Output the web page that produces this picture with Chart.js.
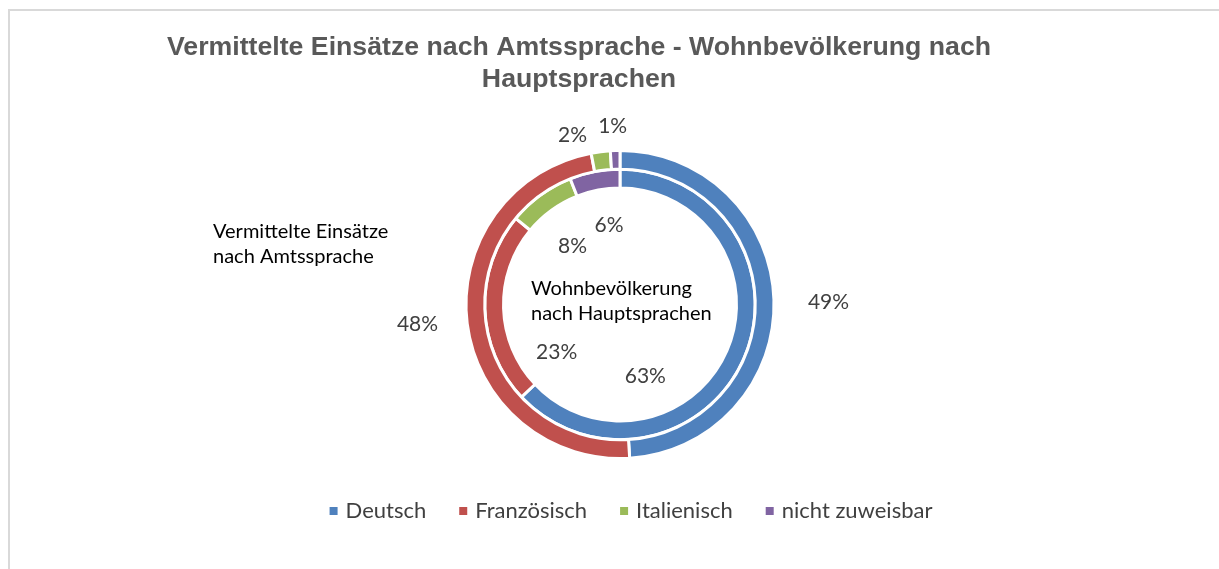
<!DOCTYPE html>
<html>
<head>
<meta charset="utf-8">
<script src="https://cdn.jsdelivr.net/npm/chart.js@4.4.1/dist/chart.umd.min.js"></script>
<style>
  html, body { margin: 0; padding: 0; background: #fff; overflow: hidden; }
  #frame { position: absolute; left: 8px; top: 9px; width: 1400px; height: 800px;
           border-left: 2px solid #d9d9d9; border-top: 2px solid #d9d9d9; }
  #c { position: absolute; left: 0; top: 0; }
</style>
</head>
<body>
<div id="frame"></div>
<canvas id="c" width="1219" height="569"></canvas>
<script>
// ---- data ----
const titleLines = ['Vermittelte Einsätze nach Amtssprache - Wohnbevölkerung nach', 'Hauptsprachen'];
const categories = ['Deutsch', 'Französisch', 'Italienisch', 'nicht zuweisbar'];
const einsaetzeLabel = ['Vermittelte Einsätze', 'nach Amtssprache'];
const einsaetzeValues = [49, 48, 2, 1];
const bevoelkerungLabel = ['Wohnbevölkerung', 'nach Hauptsprachen'];
const bevoelkerungValues = [63, 23, 8, 6];

// ---- styles / layout ----
const colors = ['#4F81BD', '#C0504D', '#9BBB59', '#8064A2'];
const FONT = 'Lato, "Open Sans", sans-serif';
// label offsets relative to doughnut centre (text centre x, baseline y)
const valueLabelOffsets = [
  [[208.5, 4.5], [-202.5, 26.2], [-47.5, -162.8], [-7.3, -171.8]],
  [[25.3, 78.5], [-63.3, 54.5], [-47.5, -51.2], [-11, -72.8]]
];
const seriesLabelOffsets = [[-407, -66.5], [-89, -9.5]];
const seriesLineHeight = 24.5;

const textPlugin = {
  id: 'texts',
  afterDraw(chart) {
    const ctx = chart.ctx;
    const meta0 = chart.getDatasetMeta(0);
    const arc = meta0.data[0];
    const cx = arc.x, cy = arc.y;
    ctx.save();
    // title
    ctx.fillStyle = '#595959';
    ctx.font = 'bold 26.7px "Liberation Sans", Arial, sans-serif';
    ctx.textAlign = 'center';
    ctx.textBaseline = 'alphabetic';
    titleLines.forEach((t, i) => ctx.fillText(t, 579, 55 + i * 32));

    // value labels
    ctx.font = '21px ' + FONT;
    ctx.fillStyle = '#404040';
    chart.data.datasets.forEach((ds, di) => {
      const total = ds.data.reduce((a, b) => a + b, 0);
      ds.data.forEach((v, i) => {
        const off = valueLabelOffsets[di][i];
        const pct = Math.round(v / total * 100) + '%';
        ctx.fillText(pct, cx + off[0], cy + off[1]);
      });
    });

    // series labels
    ctx.font = '20px ' + FONT;
    ctx.fillStyle = '#000000';
    ctx.textAlign = 'left';
    chart.data.datasets.forEach((ds, di) => {
      const off = seriesLabelOffsets[di];
      ds.label.forEach((line, li) => {
        ctx.fillText(line, cx + off[0], cy + off[1] + li * seriesLineHeight);
      });
    });

    // legend
    ctx.font = '22px ' + FONT;
    const box = 8, gapBoxText = 8, gapItems = 33;
    const widths = chart.data.labels.map(l => ctx.measureText(l).width);
    const total = widths.reduce((a, w) => a + box + gapBoxText + w, 0) + gapItems * (widths.length - 1);
    let x = 631 - total / 2;
    const baseline = 518;
    chart.data.labels.forEach((l, i) => {
      ctx.fillStyle = colors[i];
      ctx.fillRect(x, 507, box, box);
      x += box + gapBoxText;
      ctx.fillStyle = '#404040';
      ctx.fillText(l, x, baseline);
      x += widths[i] + gapItems;
    });
    ctx.restore();
  }
};

new Chart(document.getElementById('c'), {
  type: 'doughnut',
  data: {
    labels: categories,
    datasets: [
      { label: einsaetzeLabel, data: einsaetzeValues, backgroundColor: colors,
        borderColor: '#ffffff', borderWidth: 3, hoverBorderWidth: 3 },
      { label: bevoelkerungLabel, data: bevoelkerungValues, backgroundColor: colors,
        borderColor: '#ffffff', borderWidth: 3, hoverBorderWidth: 3 }
    ]
  },
  options: {
    responsive: false,
    animation: false,
    events: [],
    cutout: '75.65%',
    layout: { padding: { left: 300, right: 279, top: 149, bottom: 109 } },
    plugins: { legend: { display: false }, tooltip: { enabled: false }, title: { display: false } }
  },
  plugins: [textPlugin]
});
</script>
</body>
</html>
